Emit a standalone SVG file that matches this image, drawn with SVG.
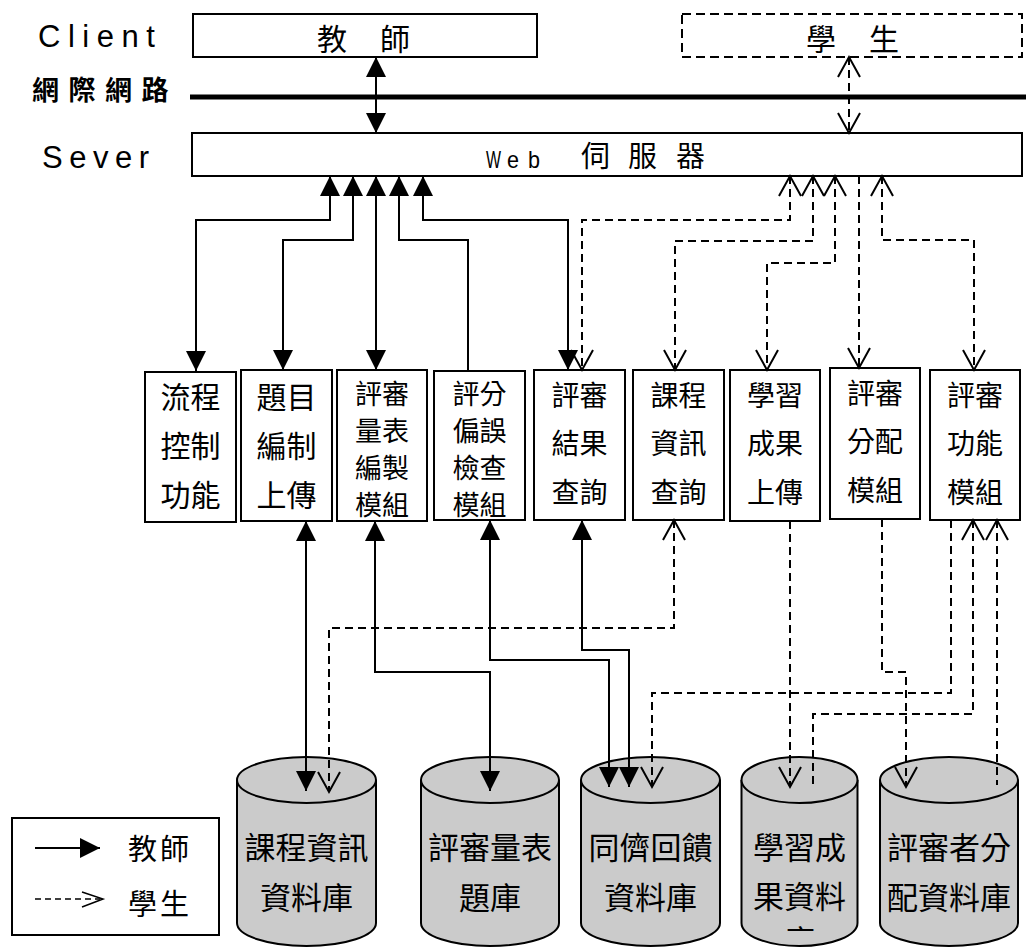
<svg xmlns="http://www.w3.org/2000/svg" width="1026" height="947" viewBox="0 0 1026 947">
<style>
.box{fill:#fff;stroke:#000;stroke-width:2}
.dbox{fill:#fff;stroke:#000;stroke-width:2;stroke-dasharray:9 5}
.cjk{font-family:"Noto Sans CJK TC","Noto Sans CJK SC",sans-serif;fill:#000}
.lat{font-family:"Liberation Sans",Arial,sans-serif;fill:#000}
.m30{font-size:30px;text-anchor:middle}
.m28{font-size:28px;text-anchor:middle}
.m27{font-size:27px;text-anchor:middle}
.c31{font-size:31px;text-anchor:middle}
.s{fill:none;stroke:#000;stroke-width:2}
.d{fill:none;stroke:#000;stroke-width:2;stroke-dasharray:8 5}
.fa2{marker-start:url(#tri);marker-end:url(#tri)}
.fa1{marker-start:url(#tri)}
.fae{marker-end:url(#tri)}
.oa2{marker-start:url(#vee);marker-end:url(#vee)}
.oa1{marker-start:url(#vee)}
.oae{marker-end:url(#vee)}
.cyl{fill:#cbcbcb;stroke:#000;stroke-width:2}
</style>
<defs>
<marker id="tri" markerUnits="userSpaceOnUse" markerWidth="22" markerHeight="22" refX="20" refY="10" orient="auto-start-reverse" overflow="visible">
<path d="M0,0 L20,10 L0,20 z" fill="#000"/>
</marker>
<marker id="vee" markerUnits="userSpaceOnUse" markerWidth="22" markerHeight="24" refX="20" refY="11" orient="auto-start-reverse" overflow="visible">
<path d="M0,0 L20,11 L0,22" fill="none" stroke="#000" stroke-width="2"/>
</marker>
<clipPath id="clip4"><rect x="740" y="760" width="120" height="171"/></clipPath>
</defs>
<rect width="1026" height="947" fill="#fff"/>

<g id="labels">
<text class="lat" x="38" y="47" font-size="31" letter-spacing="7.5">Client</text>
<text class="cjk" x="32" y="100" font-size="27" font-weight="bold" letter-spacing="9.5">網際網路</text>
<text class="lat" x="42" y="168" font-size="31" letter-spacing="6.5">Sever</text>
</g>

<g id="teacher">
<rect class="box" x="193" y="14" width="344" height="43"/>
<text class="cjk" x="317 347 380" y="50" font-size="30">教 師</text>
</g>

<g id="student">
<rect class="dbox" x="682" y="14" width="340" height="43"/>
<text class="cjk" x="806 836 869" y="50" font-size="30">學 生</text>
</g>

<g id="internet">
<line x1="190" y1="97" x2="1026" y2="97" stroke="#000" stroke-width="5"/>
</g>

<g id="webserver">
<rect class="box" x="192" y="133" width="830" height="43"/>
<text class="lat" x="486" y="168" font-size="24" textLength="15" lengthAdjust="spacingAndGlyphs">W</text>
<text class="lat" x="507" y="168" font-size="24" textLength="12" lengthAdjust="spacingAndGlyphs">e</text>
<text class="lat" x="528" y="168" font-size="24" textLength="12" lengthAdjust="spacingAndGlyphs">b</text>
<text class="cjk" x="581 628 676" y="167" font-size="29">伺服器</text>
</g>

<g id="m1">
<rect class="box" x="145" y="372" width="91" height="150"/>
<text class="cjk m30" x="190.5" y="408">流程</text>
<text class="cjk m30" x="190.5" y="457">控制</text>
<text class="cjk m30" x="190.5" y="506">功能</text>
</g>
<g id="m2">
<rect class="box" x="241" y="370" width="91" height="151"/>
<text class="cjk m30" x="286.5" y="408">題目</text>
<text class="cjk m30" x="286.5" y="457">編制</text>
<text class="cjk m30" x="286.5" y="506">上傳</text>
</g>
<g id="m3">
<rect class="box" x="337" y="370" width="90" height="151"/>
<text class="cjk m27" x="382" y="404">評審</text>
<text class="cjk m27" x="382" y="441">量表</text>
<text class="cjk m27" x="382" y="478">編製</text>
<text class="cjk m27" x="382" y="515">模組</text>
</g>
<g id="m4">
<rect class="box" x="434" y="371" width="91" height="149"/>
<text class="cjk m27" x="479.5" y="404">評分</text>
<text class="cjk m27" x="479.5" y="441">偏誤</text>
<text class="cjk m27" x="479.5" y="478">檢查</text>
<text class="cjk m27" x="479.5" y="515">模組</text>
</g>
<g id="m5">
<rect class="box" x="534" y="370" width="91" height="150"/>
<text class="cjk m28" x="579.5" y="406">評審</text>
<text class="cjk m28" x="579.5" y="454">結果</text>
<text class="cjk m28" x="579.5" y="503">查詢</text>
</g>
<g id="m6">
<rect class="box" x="633" y="370" width="91" height="150"/>
<text class="cjk m28" x="678.5" y="406">課程</text>
<text class="cjk m28" x="678.5" y="454">資訊</text>
<text class="cjk m28" x="678.5" y="503">查詢</text>
</g>
<g id="m7">
<rect class="box" x="730" y="370" width="90" height="151"/>
<text class="cjk m28" x="775" y="406">學習</text>
<text class="cjk m28" x="775" y="454">成果</text>
<text class="cjk m28" x="775" y="503">上傳</text>
</g>
<g id="m8">
<rect class="box" x="830" y="368" width="90" height="151"/>
<text class="cjk m28" x="875" y="404">評審</text>
<text class="cjk m28" x="875" y="452">分配</text>
<text class="cjk m28" x="875" y="501">模組</text>
</g>
<g id="m9">
<rect class="box" x="930" y="370" width="90" height="150"/>
<text class="cjk m28" x="975" y="406">評審</text>
<text class="cjk m28" x="975" y="454">功能</text>
<text class="cjk m28" x="975" y="503">模組</text>
</g>

<g id="db1">
<path class="cyl" d="M237,780 V923 A69.5,23 0 0 0 376,923 V780"/>
<ellipse class="cyl" cx="306.5" cy="780" rx="69.5" ry="23"/>
<text class="cjk c31" x="306.5" y="859">課程資訊</text>
<text class="cjk c31" x="306.5" y="909">資料庫</text>
</g>
<g id="db2">
<path class="cyl" d="M421,780 V923 A69,23 0 0 0 559,923 V780"/>
<ellipse class="cyl" cx="490" cy="780" rx="69" ry="23"/>
<text class="cjk c31" x="490" y="859">評審量表</text>
<text class="cjk c31" x="490" y="909">題庫</text>
</g>
<g id="db3">
<path class="cyl" d="M581,780 V923 A69.5,23 0 0 0 720,923 V780"/>
<ellipse class="cyl" cx="650.5" cy="780" rx="69.5" ry="23"/>
<text class="cjk c31" x="650.5" y="859">同儕回饋</text>
<text class="cjk c31" x="650.5" y="909">資料庫</text>
</g>
<g id="db4">
<path class="cyl" d="M741.5,780 V923 A58,23 0 0 0 857.5,923 V780"/>
<ellipse class="cyl" cx="799.5" cy="780" rx="58" ry="23"/>
<text class="cjk c31" x="799.5" y="859">學習成</text>
<text class="cjk c31" x="799.5" y="908">果資料</text>
<text class="cjk c31" x="799.5" y="952" clip-path="url(#clip4)">庫</text>
</g>
<g id="db5">
<path class="cyl" d="M880,780 V923 A69,23 0 0 0 1018,923 V780"/>
<ellipse class="cyl" cx="949" cy="780" rx="69" ry="23"/>
<text class="cjk c31" x="949" y="859">評審者分</text>
<text class="cjk c31" x="949" y="909">配資料庫</text>
</g>

<g id="legend">
<rect class="box" x="12" y="818" width="207" height="117"/>
<line x1="35" y1="848" x2="100" y2="848" stroke="#000" stroke-width="2" class="fae"/>
<text class="cjk" x="128" y="860" font-size="29" letter-spacing="3">教師</text>
<line x1="35" y1="899" x2="100" y2="899" stroke="#000" stroke-width="1.5" stroke-dasharray="6 4"/>
<path d="M82,892 L103,899 L82,907" fill="none" stroke="#000" stroke-width="1.5"/>
<text class="cjk" x="128" y="915" font-size="29" letter-spacing="3">學生</text>
</g>

<g id="connectors">
<path class="s fa2" d="M376,57 V133"/>
<path class="d oa2" d="M849,57 V133"/>

<path class="s fa2" d="M330,176 V220 H196 V371"/>
<path class="s fa2" d="M353,176 V240 H283 V370"/>
<path class="s fa2" d="M376,176 V370"/>
<path class="s fa1" d="M399,176 V240 H468 V371"/>
<path class="s fa2" d="M423,176 V220 H568 V370"/>

<path class="d oa2" d="M790,176 V220 H582 V370"/>
<path class="d oa2" d="M813,176 V241 H675 V370"/>
<path class="d oa2" d="M835,176 V263 H767 V370"/>
<path class="d oae" d="M859,176 V368"/>
<path class="d oa2" d="M882,176 V240 H974 V370"/>

<path class="s fa2" d="M306,521 V791"/>
<path class="s fa2" d="M375,521 V672 H490 V791"/>
<path class="s fa2" d="M490,520 V660 H609 V787"/>
<path class="s fa2" d="M582,520 V650 H629 V787"/>

<path class="d oa2" d="M674,520 V628 H329 V792"/>
<path class="d oae" d="M790,521 V787"/>
<path class="d oae" d="M882,519 V672 H906 V787"/>
<path class="d oae" d="M951,520 V693 H652 V787"/>
<path class="d oa1" d="M973,520 V714 H813 V787"/>
<path class="d oa1" d="M997,520 V785"/>
</g>
</svg>
